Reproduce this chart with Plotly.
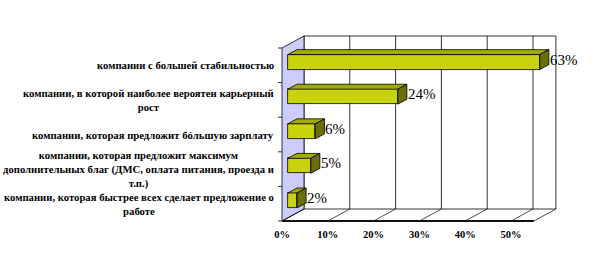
import plotly.graph_objects as go

# ---- data ----
categories = [
    "компании с большей стабильностью",
    "компании, в которой наиболее вероятен карьерный<br>рост",
    "компании, которая предложит бóльшую зарплату",
    "компании, которая предложит максимум<br>дополнительных благ (ДМС, оплата питания, проезда и<br>т.п.)",
    "компании, которая быстрее всех сделает предложение о<br>работе",
]
values = [63, 24, 6, 5, 2]
tick_values = [0, 10, 20, 30, 40, 50]
tick_labels = ["0%", "10%", "20%", "30%", "40%", "50%"]
axis_max = 55

# ---- geometry helpers (pixel -> data scale) ----
W, H = 598, 273
X0PX = 282.0          # front 0% position
SX = 4.58             # px per percent
BAND = 34.6           # px per category band
Y0PX = 65.3           # centre of first band (front plane)
YTOP, YBOT = 28.0, 222.0

DX = 22.0 / SX        # depth offset in % units
DY = 12.0 / BAND      # depth offset in category units
F0, F1 = 0.27, 0.68   # bar depth fractions
HALF = 0.217          # half bar thickness

front_col = "#C9D30D"
top_col = "#A2AA06"
side_col = "#6A7004"
wall_col = "#CCCCFF"

n = len(categories)
top_y = -0.5
bot_y = n - 0.5

fig = go.Figure()
shapes = []

def spoly(xs, ys, fill, lw=0.8, lc="black"):
    path = "M " + " L ".join(f"{x},{y}" for x, y in zip(xs, ys)) + " Z"
    shapes.append(dict(type="path", path=path, xref="x", yref="y", fillcolor=fill,
                       line=dict(color=lc, width=lw), layer="below"))

def sline(x0, y0, x1, y1, lw=0.8, lc="black"):
    shapes.append(dict(type="line", x0=x0, y0=y0, x1=x1, y1=y1, xref="x", yref="y",
                       line=dict(color=lc, width=lw), layer="below"))

def poly(xs, ys, fill, lw=0.8, lc="black"):
    fig.add_trace(go.Scatter(x=xs + [xs[0]], y=ys + [ys[0]], mode="lines", fill="toself",
                             fillcolor=fill, line=dict(color=lc, width=lw),
                             hoverinfo="skip", showlegend=False))

# back wall
spoly([DX, DX + axis_max, DX + axis_max, DX],
      [top_y - DY, top_y - DY, bot_y - DY, bot_y - DY], "white")
# gridlines on back wall
for t in tick_values[1:]:
    sline(DX + t, bot_y - DY, DX + t, top_y - DY)
# left wall
spoly([0, 0, DX, DX], [bot_y, top_y, top_y - DY, bot_y - DY], wall_col)
# floor diagonals
for t in tick_values + [axis_max]:
    sline(t, bot_y, t + DX, bot_y - DY, lw=0.7)
# front axis
sline(0, bot_y, axis_max, bot_y, lw=2, lc="#111111")
# category tick marks on left wall edge
for k in range(n + 1):
    yk = top_y + k
    sline(0, yk, -4.0 / SX, yk, lw=0.8)

# bars
bx0 = F0 * DX
bdx = (F1 - F0) * DX
bdy = (F1 - F0) * DY
lengths = [min(v, axis_max) for v in values]
ycent = [i - F0 * DY for i in range(n)]
fig.add_trace(go.Bar(y=ycent, x=lengths, base=[bx0] * n, orientation="h", width=2 * HALF,
                     marker=dict(color=front_col, line=dict(color="black", width=0.8)),
                     hoverinfo="skip", showlegend=False))
for i, L in enumerate(lengths):
    yt = ycent[i] - HALF
    yb = ycent[i] + HALF
    x1 = bx0 + L
    poly([bx0, x1, x1 + bdx, bx0 + bdx], [yt, yt, yt - bdy, yt - bdy], top_col)
    poly([x1, x1 + bdx, x1 + bdx, x1], [yt, yt - bdy, yb - bdy, yb], side_col)

annotations = []
for i, (v, L) in enumerate(zip(values, lengths)):
    annotations.append(dict(x=bx0 + L + bdx, y=i - (F0 + F1) / 2 * DY, xref="x", yref="y",
                            text=f"{v}%", showarrow=False, xanchor="left", yanchor="middle",
                            xshift=-1,
                            font=dict(family="Liberation Serif", size=15, color="black")))
for i, c in enumerate(categories):
    annotations.append(dict(x=276 / W, y=i, xref="paper", yref="y", text=c, showarrow=False,
                            xanchor="right", yanchor="middle", align="center",
                            font=dict(family="Liberation Serif", size=10.7, color="black",
                                      weight="bold")))

fig.update_layout(
    width=W, height=H, margin=dict(l=0, r=0, t=0, b=0),
    paper_bgcolor="white", plot_bgcolor="rgba(0,0,0,0)",
    bargap=0, annotations=annotations, shapes=shapes,
    xaxis=dict(domain=[0, 1], range=[-X0PX / SX, (W - X0PX) / SX], showgrid=False,
               zeroline=False, showline=False, tickvals=tick_values, ticktext=tick_labels,
               ticks="", ticklabelstandoff=4,
               tickfont=dict(family="Liberation Serif", size=10.5, color="black", weight="bold")),
    yaxis=dict(domain=[(H - YBOT) / H, (H - YTOP) / H],
               range=[(YBOT - Y0PX) / BAND, (YTOP - Y0PX) / BAND],
               showgrid=False, zeroline=False, showline=False, showticklabels=False),
)

fig.write_html("out.html")
